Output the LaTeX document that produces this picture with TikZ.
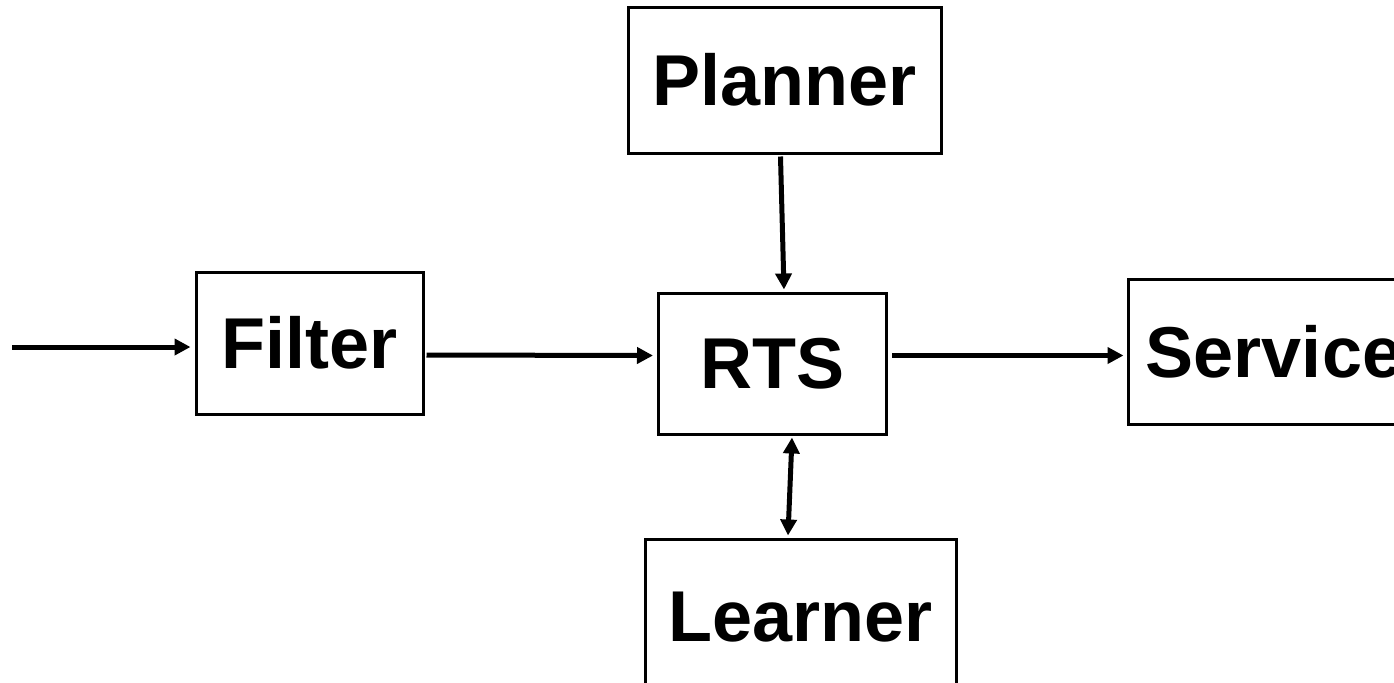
\documentclass[tikz,border=0pt]{standalone}
\usepackage{fontspec}
\setmainfont{Liberation Sans}
\usetikzlibrary{arrows.meta,positioning}

\begin{document}
\begin{tikzpicture}[
  x=0.5pt,y=-0.5pt,
  blockbox/.style={draw,line width=1.5pt,inner sep=0pt,align=center,
    font=\fontsize{36}{40}\selectfont\bfseries},
  flow/.style={line width=2.5pt,-{Triangle[length=8pt,width=8pt]}},
  flowboth/.style={line width=2.5pt,{Triangle[length=8pt,width=8pt]}-{Triangle[length=8pt,width=8pt]}}
]
  \useasboundingbox (0,0) rectangle (1394,682);
  \clip (0,0) rectangle (1394,682);
  \node[blockbox,minimum width=156.5pt,minimum height=73pt] (planner) at (784.5,80) {Planner};
  \node[blockbox,minimum width=114pt,minimum height=70.5pt] (rts) at (772.5,363.5) {\raisebox{-3pt}{RTS}};
  \node[blockbox,minimum width=113.5pt,minimum height=71pt] (filter) at (309.5,343) {\raisebox{-1.5pt}{Filter}};
  \node[blockbox,minimum width=146pt,minimum height=72.5pt] (service) at (1274,351.5) {Service};
  \node[blockbox,minimum width=155.5pt,minimum height=78pt] (learner) at (800.5,617) {Learner};
  % connectors
  \coordinate (input) at (12,347);
  \draw[flow] (input) -- ([xshift=-2pt,yshift=-2pt]filter.west);
  \draw[flow] ([xshift=1pt,yshift=-6pt]filter.east) -- ([xshift=-2pt,yshift=4pt]rts.west);
  \draw[flow] ([xshift=2pt,yshift=4pt]rts.east) -- ([xshift=-1.5pt,yshift=-2pt]service.west);
  \draw[flow] ([xshift=-2pt,yshift=-1pt]planner.south) -- ([xshift=5.75pt,yshift=1pt]rts.north);
  \draw[flowboth] ([xshift=9.75pt,yshift=-1pt]rts.south) -- ([xshift=-6.25pt,yshift=1pt]learner.north);
\end{tikzpicture}
\end{document}
